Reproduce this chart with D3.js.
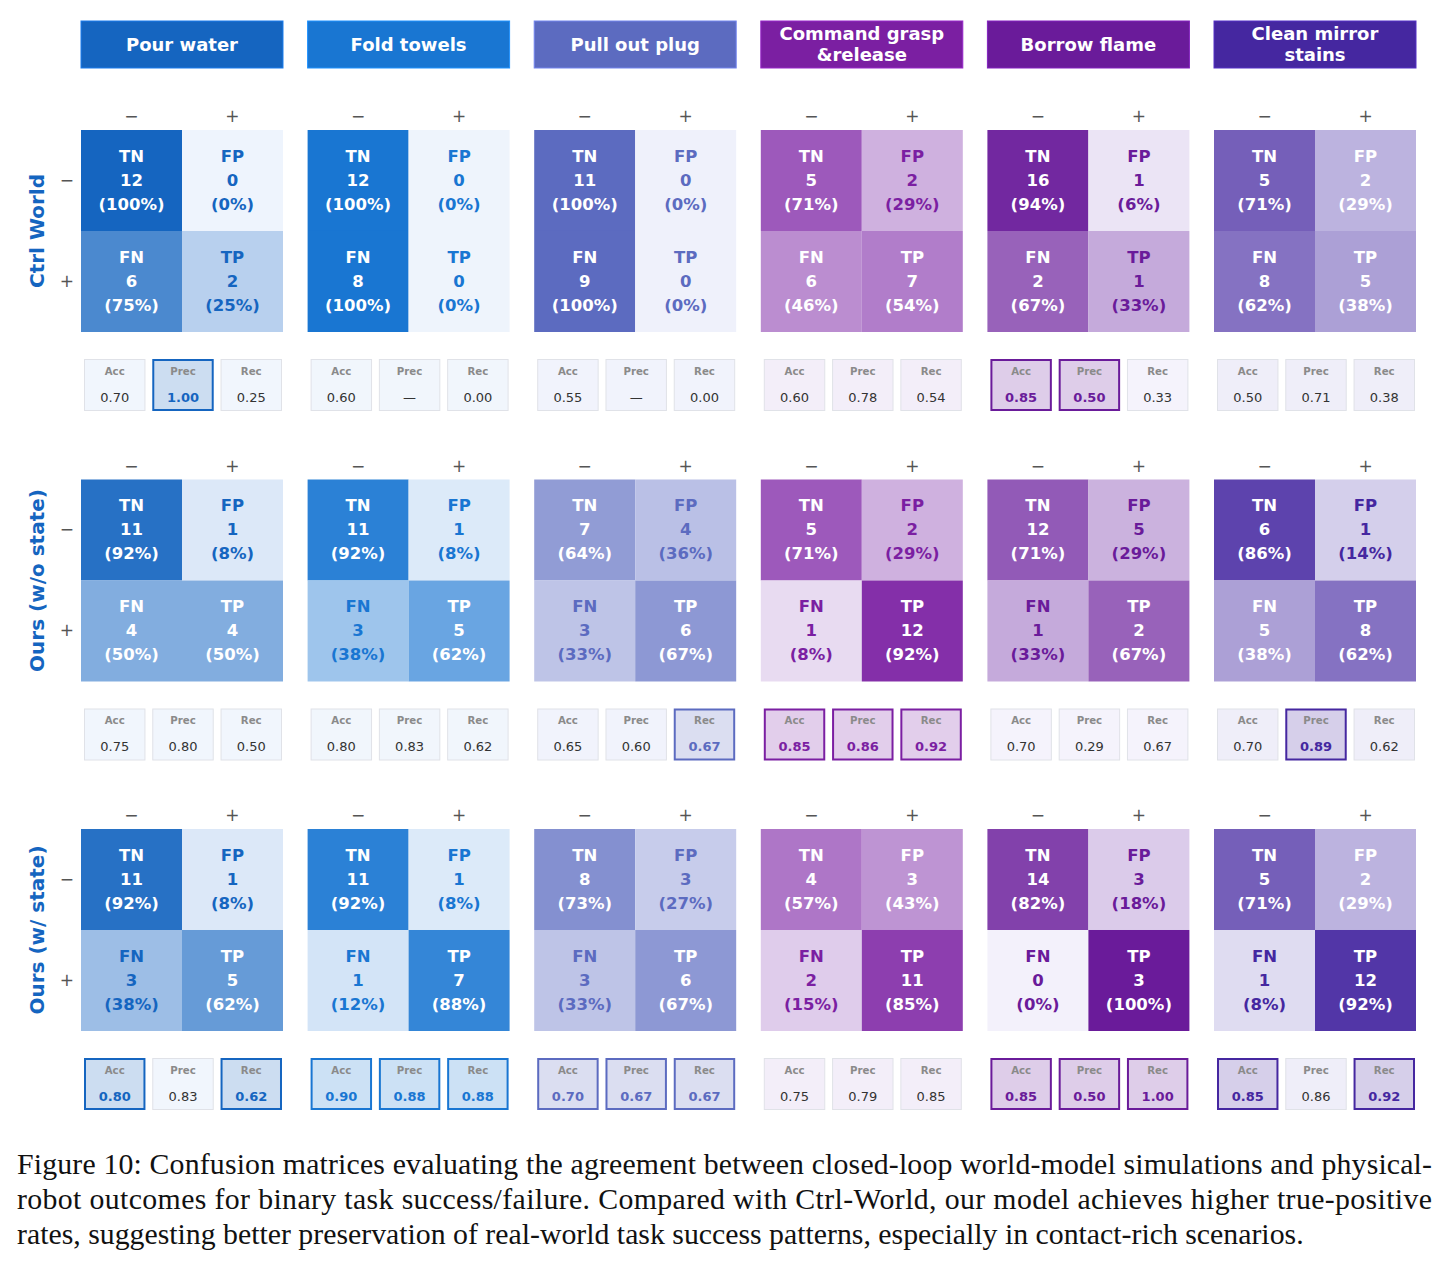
<!DOCTYPE html>
<html>
<head>
<meta charset="utf-8">
<script src="https://cdn.jsdelivr.net/npm/d3@7"></script>
<style>
  html, body { margin: 0; padding: 0; background: #fff; }
  svg { display: block; }
</style>
</head>
<body>
<div id="root"><svg></svg></div>
<script>
// ---- data ----
const tasks = ['Pour water', 'Fold towels', 'Pull out plug', 'Command grasp\n&release', 'Borrow flame', 'Clean mirror\nstains'];
const methods = ['Ctrl World', 'Ours (w/o state)', 'Ours (w/ state)'];

// confusion counts per task: [TN, FP, FN, TP]
const ctrlCounts    = [[12,0,6,2],[12,0,8,0],[11,0,9,0],[5,2,6,7],[16,1,2,1],[5,2,8,5]];
const woStateCounts = [[11,1,4,4],[11,1,3,5],[7,4,3,6],[5,2,1,12],[12,5,1,2],[6,1,5,8]];
const wStateCounts  = [[11,1,3,5],[11,1,1,7],[8,3,3,6],[4,3,2,11],[14,3,0,3],[5,2,1,12]];

// metrics per task: [Acc, Prec, Rec]  (null = undefined)
const ctrlMetrics    = [[0.70,1.00,0.25],[0.60,null,0.00],[0.55,null,0.00],[0.60,0.78,0.54],[0.85,0.50,0.33],[0.50,0.71,0.38]];
const woStateMetrics = [[0.75,0.80,0.50],[0.80,0.83,0.62],[0.65,0.60,0.67],[0.85,0.86,0.92],[0.70,0.29,0.67],[0.70,0.89,0.62]];
const wStateMetrics  = [[0.80,0.83,0.62],[0.90,0.88,0.88],[0.70,0.67,0.67],[0.75,0.79,0.85],[0.85,0.50,1.00],[0.85,0.86,0.92]];

const cellNames = ['TN', 'FP', 'FN', 'TP'];
const metricNames = ['Acc', 'Prec', 'Rec'];
const tickLabels = ['\u2212', '+'];

const captionLines = [
  'Figure 10: Confusion matrices evaluating the agreement between closed-loop world-model simulations and physical-',
  'robot outcomes for binary task success/failure. Compared with Ctrl-World, our model achieves higher true-positive',
  'rates, suggesting better preservation of real-world task success patterns, especially in contact-rich scenarios.'
];

// ---- styles ----
const taskColors = ['#1565c0', '#1976d2', '#5c6bc0', '#7b1fa2', '#6a1b9a', '#4527a0'];
const taskLight  = ['#eef4fd', '#eef4fc', '#eff1fb', '#f1ebf8', '#f3f1fb', '#ecebf8'];
const whiteAbove = [0.45, 0.45, 0.45, 0.40, 0.40, 0.20];  // text turns white above this share

const counts = [ctrlCounts, woStateCounts, wStateCounts];
const metrics = [ctrlMetrics, woStateMetrics, wStateMetrics];

const width = 1448, height = 1268;
const font = '"DejaVu Sans", sans-serif';

const svg = d3.select('#root').select('svg')
    .attr('width', width)
    .attr('height', height);

const xPanel = d3.scaleBand().domain(d3.range(tasks.length)).range([81, 1416]).paddingInner(0.1086);
const yPanel = d3.scaleLinear().domain([0, 1]).range([130, 479.5]);
const cw = xPanel.bandwidth();
const cell = d3.scaleBand().domain(tickLabels).range([0, cw]);
const mBox = d3.scaleBand().domain(metricNames).range([3, cw - 1]).paddingInner(0.1);

// round half to even, like the original formatting
function pctText(v) {
  const x = v * 100, f = Math.floor(x), d = x - f;
  let r = Math.abs(d - 0.5) < 1e-9 ? (f % 2 === 0 ? f : f + 1) : Math.round(x);
  return '(' + r + '%)';
}

// header boxes
tasks.forEach((t, ti) => {
  const g = svg.append('g').attr('transform', `translate(${xPanel(ti)},21)`);
  g.append('rect')
    .attr('width', cw).attr('height', 47)
    .attr('fill', taskColors[ti])
    .attr('stroke', d3.color(taskColors[ti]).brighter(0.6))
    .attr('stroke-width', 1);
  const lines = t.split('\n');
  lines.forEach((ln, li) => {
    g.append('text')
      .attr('x', cw / 2)
      .attr('y', 23 + (li - (lines.length - 1) / 2) * 21)
      .attr('text-anchor', 'middle')
      .attr('dominant-baseline', 'central')
      .attr('font-family', font).attr('font-weight', 'bold').attr('font-size', 18)
      .attr('fill', '#fff')
      .text(ln);
  });
});

// panels
methods.forEach((m, mi) => {
  const top = yPanel(mi);

  // method label
  svg.append('text')
    .attr('transform', `translate(37,${top + cw / 2}) rotate(-90)`)
    .attr('text-anchor', 'middle')
    .attr('dominant-baseline', 'central')
    .attr('font-family', font).attr('font-weight', 'bold').attr('font-size', 20)
    .attr('fill', '#1565c0')
    .text(m);

  tasks.forEach((t, ti) => {
    const c = counts[mi][ti];
    const negTot = c[0] + c[1], posTot = c[2] + c[3];
    const shares = [c[0] / negTot, c[1] / negTot, c[2] / posTot, c[3] / posTot];
    const color = d3.scaleLinear().domain([0, 1]).range([taskLight[ti], taskColors[ti]]).interpolate(d3.interpolateRgb);
    const x0 = xPanel(ti);
    const g = svg.append('g').attr('transform', `translate(${x0},${top})`);

    const cells = cellNames.map((n, k) => ({
      name: n, count: c[k], share: shares[k],
      col: tickLabels[k % 2], row: tickLabels[Math.floor(k / 2)]
    }));

    g.selectAll('rect.cell')
      .data(cells)
      .enter().append('rect')
      .attr('class', 'cell')
      .attr('x', d => cell(d.col))
      .attr('y', d => cell(d.row))
      .attr('width', cell.bandwidth())
      .attr('height', cell.bandwidth())
      .attr('fill', d => color(d.share));

    const txt = g.selectAll('g.lbl')
      .data(cells)
      .enter().append('g')
      .attr('class', 'lbl')
      .attr('transform', d => `translate(${cell(d.col) + cell.bandwidth() / 2},${cell(d.row) + cell.bandwidth() / 2})`)
      .attr('font-family', font).attr('font-weight', 'bold').attr('font-size', 16.5)
      .attr('text-anchor', 'middle')
      .attr('fill', d => d.share > whiteAbove[ti] ? '#fff' : taskColors[ti]);
    [d => d.name, d => d.count, d => pctText(d.share)].forEach((f, li) => {
      txt.append('text')
        .attr('y', (li - 1) * 24)
        .attr('dominant-baseline', 'central')
        .text(f);
    });

    // axes
    g.append('g')
      .attr('transform', 'translate(0,-8)')
      .call(d3.axisTop(cell).tickSize(0).tickPadding(0))
      .call(a => a.select('.domain').remove())
      .call(a => a.selectAll('text').attr('font-family', font).attr('font-size', 17).attr('fill', '#555'));
    if (ti === 0) {
      g.append('g')
        .attr('transform', 'translate(-7,0)')
        .call(d3.axisLeft(cell).tickSize(0).tickPadding(0))
        .call(a => a.select('.domain').remove())
        .call(a => a.selectAll('text').attr('font-family', font).attr('font-size', 17).attr('fill', '#555'));
    }

    // metric boxes; the best value per task and metric across methods is highlighted
    const mg = g.append('g').attr('transform', `translate(0,${229})`);
    metricNames.forEach((mn, k) => {
      const v = metrics[mi][ti][k];
      const colVals = metrics.map(mm => mm[ti][k]).filter(x => x !== null);
      const best = v !== null && v === d3.max(colVals);
      const bx = mBox(mn), bw = mBox.bandwidth();
      mg.append('rect')
        .attr('x', bx + (best ? 1 : 0.5)).attr('y', best ? 1 : 0.5)
        .attr('width', bw - (best ? 2 : 1)).attr('height', best ? 50 : 51)
        .attr('fill', best ? d3.interpolateRgb('#fff', taskColors[ti])(0.22) : d3.interpolateRgb('#fff', taskLight[ti])(0.85))
        .attr('stroke', best ? taskColors[ti] : '#e0e2e8')
        .attr('stroke-width', best ? 2 : 1);
      mg.append('text')
        .attr('x', bx + bw / 2).attr('y', 12)
        .attr('text-anchor', 'middle').attr('dominant-baseline', 'central')
        .attr('font-family', font).attr('font-weight', 'bold').attr('font-size', 10.2)
        .attr('fill', '#8a8a8a')
        .text(mn);
      mg.append('text')
        .attr('x', bx + bw / 2).attr('y', 38)
        .attr('text-anchor', 'middle').attr('dominant-baseline', 'central')
        .attr('font-family', font).attr('font-weight', best ? 'bold' : 'normal').attr('font-size', 13)
        .attr('fill', best ? taskColors[ti] : '#333')
        .text(v === null ? '\u2014' : d3.format('.2f')(v));
    });
  });
});

// caption
captionLines.forEach((ln, i) => {
  const t = svg.append('text')
    .attr('x', 17).attr('y', 1174 + i * 35)
    .attr('font-family', '"Liberation Serif", "Times New Roman", serif')
    .attr('font-size', 29.8)
    .attr('fill', '#111')
    .text(ln);
  if (i < captionLines.length - 1) t.attr('textLength', 1415).attr('lengthAdjust', 'spacing');
});
</script>
</body>
</html>
